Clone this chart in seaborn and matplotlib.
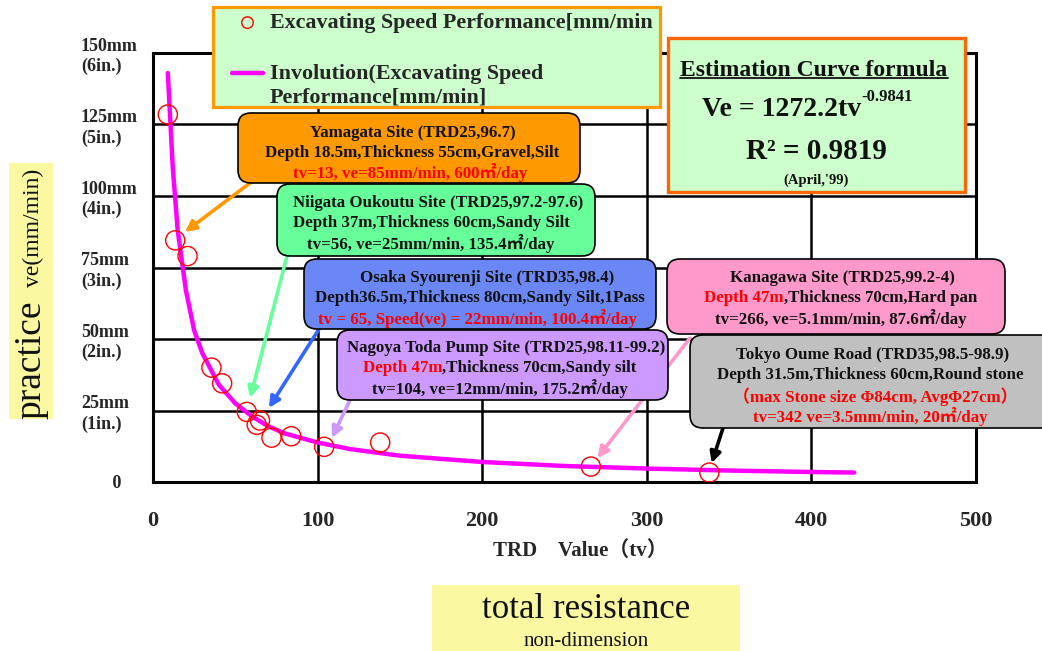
import numpy as np
import pandas as pd
import matplotlib
matplotlib.use("Agg")
import matplotlib.pyplot as plt
import seaborn as sns
from matplotlib.patches import FancyBboxPatch, Rectangle
from matplotlib.lines import Line2D

# ---------------- data ----------------
tv_points = [9, 13.5, 21, 35.5, 42, 57, 65, 63, 72, 84, 104, 138, 266, 338]
ve_points = [128.5, 84.5, 79, 40, 34.5, 24.5, 21.5, 20, 15.5, 16, 12.3, 13.8, 5.4, 3.3]

curve_tv = [9, 12, 15, 20, 25, 30, 40, 50, 60, 70, 80, 100, 120, 150, 200, 250, 300, 350, 400, 426]
curve_ve = [143, 110, 88, 67, 53, 45, 34, 27.5, 23, 19.5, 17, 13.8, 11.5, 9.2, 7.0, 5.6, 4.7, 4.0, 3.5, 3.3]

y_ticks = [0, 25, 50, 75, 100, 125, 150]
y_tick_labels = ["       0", "25mm\n(1in.)", "50mm\n(2in.)", "75mm\n(3in.)",
                 "100mm\n(4in.)", "125mm\n(5in.)", "150mm\n(6in.)"]
x_ticks = [0, 100, 200, 300, 400, 500]
x_tick_labels = ["0", "100", "200", "300", "400", "500"]

scatter_label = "Excavating Speed Performance[mm/min"
curve_label = "Involution(Excavating Speed\nPerformance[mm/min]"

# ---------------- style ----------------
sns.set_theme(style="white")
plt.rcParams["font.family"] = ["Liberation Serif", "Noto Sans CJK JP"]

W, H = 1042, 651
fig = plt.figure(figsize=(W / 100, H / 100), dpi=100)
ax = fig.add_axes([153 / W, 1 - 482 / H, (976 - 153) / W, (482 - 53) / H])

df_pts = pd.DataFrame({"tv": tv_points, "ve": ve_points})
df_curve = pd.DataFrame({"tv": curve_tv, "ve": curve_ve})

sns.lineplot(data=df_curve, x="tv", y="ve", ax=ax, color="#FF00FF", lw=3.2,
             label=curve_label, zorder=3)
sns.scatterplot(data=df_pts, x="tv", y="ve", ax=ax, s=190, fc="none", ec="red",
                linewidth=1.0, label=scatter_label, zorder=4)

ax.set_xlim(0, 500)
ax.set_ylim(0, 150)
ax.grid(True, color="black", lw=1.8)
ax.set_axisbelow(True)
for sp in ax.spines.values():
    sp.set_color("black")
    sp.set_linewidth(2.2)

ax.set_yticks(y_ticks)
ax.set_yticklabels(y_tick_labels, fontsize=13, fontweight="bold", ha="left",
                   va="center_baseline", linespacing=1.25)
ax.tick_params(axis="y", length=0, pad=52)
ax.set_xticks(x_ticks)
ax.set_xticklabels(x_tick_labels, fontsize=16, fontweight="bold")
ax.tick_params(axis="x", length=0, pad=21)

ax.set_xlabel("TRD\u3000Value\uff08tv\uff09", fontsize=15, fontweight="bold")
ax.xaxis.label.set_va("center")
ax.xaxis.set_label_coords((580 - 153) / (976 - 153), -(551 - 482) / (482 - 53))
ax.set_ylabel("")


def fx(x):
    return x / W


def fy(y):
    return 1 - y / H


# legend background box
fig.patches.append(Rectangle((fx(213), fy(107)), (660 - 213) / W, (107 - 7) / H,
                             transform=fig.transFigure, fc="#CCFFCC", ec="#FF9900",
                             lw=2.3, zorder=5))

handles, labels = ax.get_legend_handles_labels()
ax.get_legend().remove()
order = [labels.index(scatter_label), labels.index(curve_label)]
leg = fig.legend([handles[i] for i in order], [labels[i] for i in order],
                 loc="upper left", bbox_to_anchor=(232 / W, 1 - 13 / H),
                 prop={"weight": "bold", "size": 15.8}, frameon=False,
                 borderpad=0, labelspacing=1.4, handlelength=1.41,
                 handletextpad=0.32, markerscale=0.6, borderaxespad=0)
leg.set_zorder(8)
# raise the line handle to the first line of its two-line label
for h in leg.legend_handles:
    if isinstance(h, Line2D):
        h.set_ydata(np.asarray(h.get_ydata(), dtype=float) + 9)

renderer = fig.canvas.get_renderer()


def box(x0, y0, x1, y1, fc, ec="black", lw=1.2, rounded=True, z=5):
    style = "round,pad=0,rounding_size=0.13" if rounded else "square,pad=0"
    p = FancyBboxPatch((x0 / 100, (H - y1) / 100), (x1 - x0) / 100, (y1 - y0) / 100,
                       boxstyle=style, transform=fig.dpi_scale_trans,
                       fc=fc, ec=ec, lw=lw, zorder=z)
    fig.patches.append(p)


FS = 12.2


def ctext(x, y, s, color="#111111", size=FS, weight="bold", ha="center", z=7, **kw):
    return fig.text(fx(x), fy(y), s, color=color, fontsize=size, fontweight=weight,
                    ha=ha, va="center", zorder=z, **kw)


def seq_text(x, y, parts, size=FS):
    cur = x
    for s, c in parts:
        t = fig.text(fx(cur), fy(y), s, color=c, fontsize=size, fontweight="bold",
                     ha="left", va="center", zorder=7)
        bb = t.get_window_extent(renderer)
        cur = bb.x1


RED = "#FF0000"
BLK = "#111111"

# Yamagata
box(238, 113, 580, 183, "#FF9900")
ctext(413, 133, "Yamagata Site (TRD25,96.7)")
ctext(412, 153, "Depth 18.5m,Thickness 55cm,Gravel,Silt")
ctext(410, 173, "tv=13, ve=85mm/min, 600\u33a1/day", color=RED)

# Niigata
box(277, 184, 595, 256, "#66FF99")
ctext(293, 203, "Niigata Oukoutu Site (TRD25,97.2-97.6)", ha="left")
ctext(293, 223, "Depth 37m,Thickness 60cm,Sandy Silt", ha="left")
ctext(307, 243, "tv=56, ve=25mm/min, 135.4\u33a1/day", ha="left")

# Osaka
box(304, 259, 656, 329, "#6B87F5")
ctext(487, 278, "Osaka Syourenji Site (TRD35,98.4)")
ctext(480, 298, "Depth36.5m,Thickness 80cm,Sandy Silt,1Pass")
ctext(477, 318, "tv = 65, Speed(ve) = 22mm/min, 100.4\u33a1/day", color=RED)

# Nagoya
box(337, 330, 668, 400, "#CC99FF")
ctext(506, 348, "Nagoya Toda Pump Site (TRD25,98.11-99.2)")
seq_text(363, 368, [("Depth 47m", RED), (",Thickness 70cm,Sandy silt", BLK)])
ctext(500, 388, "tv=104, ve=12mm/min, 175.2\u33a1/day")

# Kanagawa
box(667, 259, 1005, 334, "#FF99CC")
ctext(842, 278, "Kanagawa Site (TRD25,99.2-4)")
seq_text(704, 298, [("Depth 47m", RED), (",Thickness 70cm,Hard pan", BLK)])
ctext(841, 319, "tv=266, ve=5.1mm/min, 87.6\u33a1/day")

# Tokyo
box(690, 335, 1070, 428, "#C0C0C0")
ctext(873, 355, "Tokyo Oume Road (TRD35,98.5-98.9)")
ctext(870, 375, "Depth 31.5m,Thickness 60cm,Round stone")
ctext(875, 397, "\uff08max Stone size \u03a684cm, Avg\u03a627cm\uff09", color=RED)
ctext(870, 417, "tv=342 ve=3.5mm/min, 20\u33a1/day", color=RED)

# arrows (tips in data coordinates, tails at box edges in figure pixels)
arrows = [
    ((19.4, 87.4), (250, 183), "#FF9900"),
    ((59.0, 29.4), (287, 256), "#66FF99"),
    ((70.4, 25.9), (319, 329), "#3366FF"),
    ((108.7, 15.4), (350, 400), "#CC99FF"),
    ((270.0, 8.4), (690, 338), "#FF99CC"),
    ((339.4, 6.6), (723, 428), "black"),
]
for tip, tail, col in arrows:
    ax.annotate("", xy=tip, xycoords="data", xytext=(tail[0], H - tail[1]),
                textcoords="figure pixels", annotation_clip=False,
                arrowprops=dict(arrowstyle="-|>", color=col, lw=2.6,
                                mutation_scale=16, shrinkA=0, shrinkB=0),
                zorder=6)

# formula box
box(668, 38, 965, 192, "#CCFFCC", ec="#FF6600", lw=2.4, rounded=False, z=5)
t_title = ctext(814, 70, "Estimation Curve formula", size=17)
bb = t_title.get_window_extent(renderer)
fig.add_artist(Line2D([bb.x0 / W, bb.x1 / W], [fy(78), fy(78)], color=BLK, lw=1.3,
                      zorder=7))
t_main = ctext(702, 110, "Ve = 1272.2tv", size=20, ha="left")
bb = t_main.get_window_extent(renderer)
fig.text(bb.x1 / W, fy(97), "-0.9841", fontsize=12, fontweight="bold", color=BLK,
         ha="left", va="center", zorder=7)
ctext(816, 152, "R\u00b2 = 0.9819", size=21)
ctext(816, 180, "(April,'99)", size=10.5)

# left axis title with yellow background
fig.patches.append(Rectangle((fx(9), fy(419)), (53 - 9) / W, (419 - 163) / H,
                             transform=fig.transFigure, fc="#FAF8A0", ec="none", zorder=1))
fig.text(fx(31), fy(360), "practice", rotation=90, fontsize=27, color=BLK,
         ha="center", va="center", zorder=2)
fig.text(fx(33), fy(228), "ve(mm/min)", rotation=90, fontsize=17, color=BLK,
         ha="center", va="center", zorder=2)

# bottom caption with yellow background
fig.patches.append(Rectangle((fx(432), 0), (740 - 432) / W, (651 - 585) / H,
                             transform=fig.transFigure, fc="#FAF8A0", ec="none", zorder=1))
fig.text(fx(586), fy(609), "total resistance", fontsize=25, color=BLK,
         ha="center", va="center", zorder=2)
fig.text(fx(586), fy(641), "non-dimension", fontsize=15, color=BLK,
         ha="center", va="center", zorder=2)

fig.savefig("out.png", dpi=100)
